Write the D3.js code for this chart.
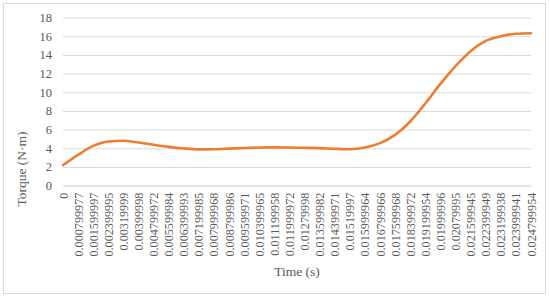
<!DOCTYPE html>
<html>
<head>
<meta charset="utf-8">
<script src="https://cdn.jsdelivr.net/npm/d3@7"></script>
<style>
  html, body { margin: 0; padding: 0; background: #fff; }
  svg { display: block; }
</style>
</head>
<body>
<div id="chart"></div>
<script>
const timeLabels = [
  "0", "0.000799977", "0.001599997", "0.002399995", "0.00319999", "0.00399998",
  "0.004799972", "0.005599984", "0.006399993", "0.007199985", "0.007999968",
  "0.008799986", "0.009599971", "0.010399965", "0.011199958", "0.011999972",
  "0.01279998", "0.013599982", "0.014399971", "0.01519997", "0.015999964",
  "0.016799966", "0.017599968", "0.018399972", "0.019199954", "0.01999996",
  "0.02079995", "0.021599945", "0.022399949", "0.023199938", "0.023999941",
  "0.024799954"
];
const torque = [
  2.2, 3.3, 4.25, 4.72, 4.8, 4.62, 4.37, 4.15, 3.98, 3.88, 3.9,
  3.96, 4.03, 4.08, 4.1, 4.08, 4.05, 4.02, 3.95, 3.9, 4.08,
  4.55, 5.44, 6.87, 8.8, 10.9, 12.8, 14.4, 15.5, 16.0, 16.27,
  16.33
];
const yTicks = [0, 2, 4, 6, 8, 10, 12, 14, 16, 18];

const width = 550;
const height = 298;
const margin = { top: 17.6, right: 19, bottom: 112.4, left: 63 };
const innerWidth = width - margin.left - margin.right;
const innerHeight = height - margin.top - margin.bottom;
const textColor = "#595959";
const serif = "Liberation Serif";

const svg = d3
  .select("#chart")
  .append("svg")
  .attr("width", width)
  .attr("height", height);

// chart area border
svg
  .append("rect")
  .attr("x", 3.5)
  .attr("y", 3.5)
  .attr("width", 542)
  .attr("height", 290)
  .attr("fill", "#fff")
  .attr("stroke", "#d9d9d9");

const chart = svg
  .append("g")
  .attr("transform", `translate(${margin.left}, ${margin.top})`);

const x = d3
  .scalePoint()
  .domain(timeLabels)
  .range([0, innerWidth]);

const y = d3
  .scaleLinear()
  .domain([0, 18])
  .range([innerHeight, 0]);

chart
  .append("g")
  .call(
    d3.axisLeft(y)
      .tickValues(yTicks)
      .tickSize(-innerWidth)
      .tickPadding(11),
  )
  .attr("font-family", serif)
  .call((g) => g.select(".domain").remove())
  .call((g) => g.selectAll("line").attr("stroke", "#d9d9d9"))
  .call((g) => g.selectAll("text")
    .style("font-family", serif)
    .attr("fill", textColor)
    .attr("font-size", 12.5));

chart
  .append("g")
  .attr("transform", `translate(0, ${innerHeight})`)
  .call(
    d3.axisBottom(x)
      .tickSize(0)
      .tickPadding(0),
  )
  .attr("font-family", serif)
  .call((g) => g.select(".domain").attr("stroke", "#d9d9d9"))
  .call((g) => g.selectAll("text")
    .style("font-family", serif)
    .attr("fill", textColor)
    .attr("font-size", 12.2)
    .attr("text-anchor", "end")
    .attr("dy", null)
    .attr("transform", "translate(4, 7) rotate(-90)"));

const line = d3
  .line()
  .x((d, i) => x(timeLabels[i]))
  .y((d) => y(d))
  .curve(d3.curveMonotoneX);

chart
  .append("path")
  .datum(torque)
  .attr("d", line)
  .attr("fill", "none")
  .attr("stroke", "#ed7d31")
  .attr("stroke-width", 2.6)
  .attr("stroke-linecap", "round");

svg
  .append("text")
  .attr("x", 297)
  .attr("y", 276)
  .attr("text-anchor", "middle")
  .style("font-family", serif)
  .attr("fill", textColor)
  .attr("font-size", 13.5)
  .text("Time (s)");

svg
  .append("text")
  .attr("transform", "translate(26, 169) rotate(-90)")
  .attr("text-anchor", "middle")
  .style("font-family", serif)
  .attr("fill", textColor)
  .attr("font-size", 13.5)
  .text("Torque (N·m)");
</script>
</body>
</html>
